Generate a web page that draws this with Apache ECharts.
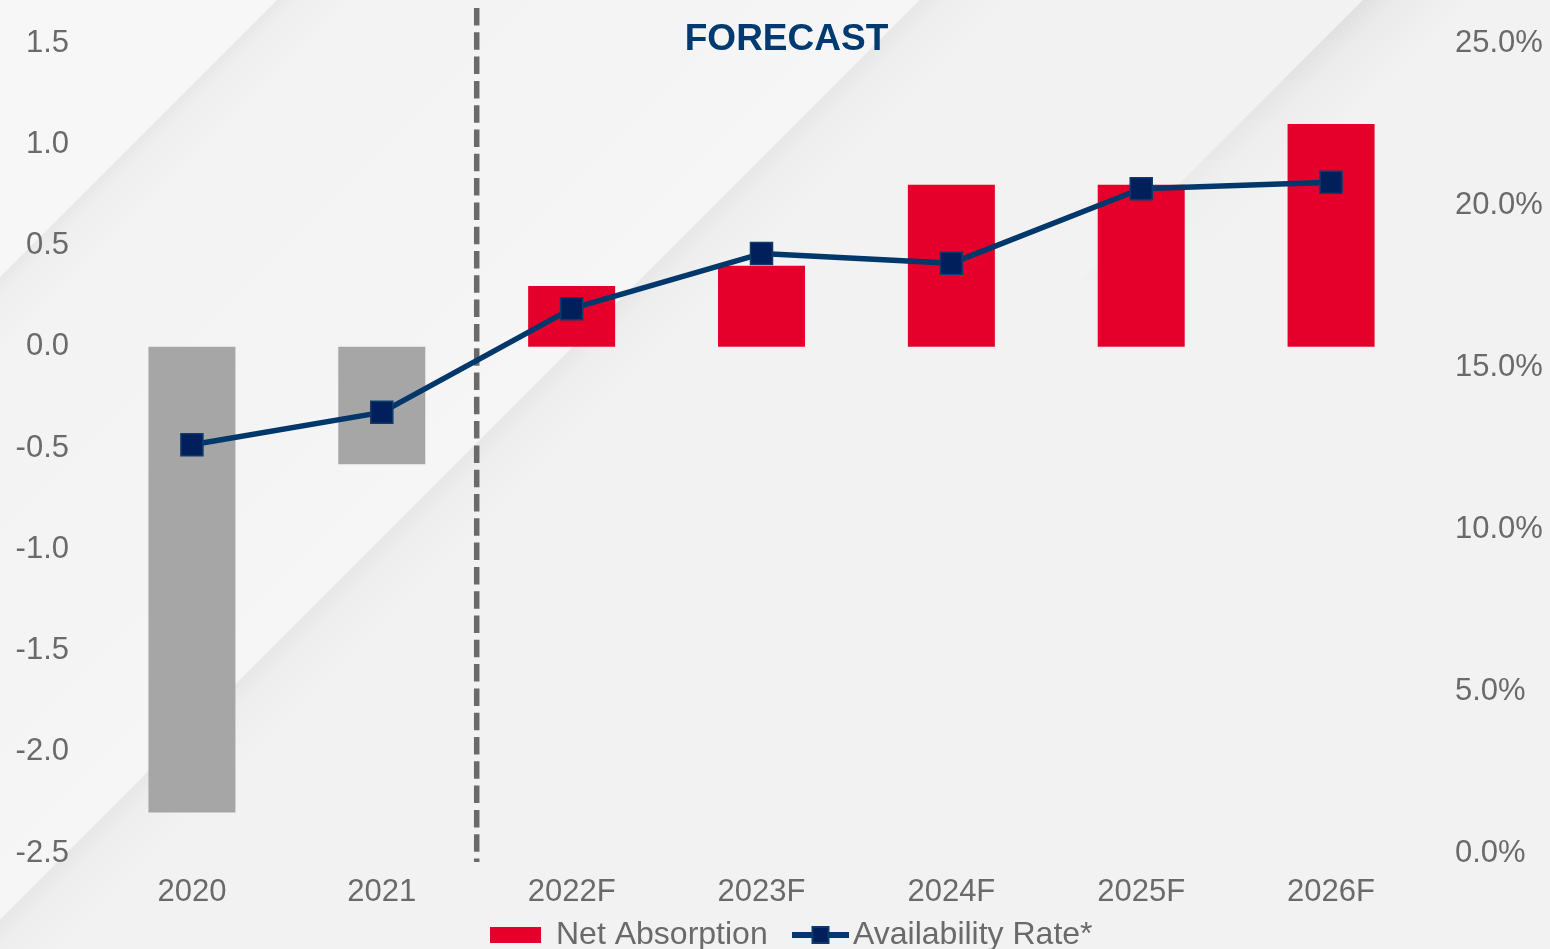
<!DOCTYPE html>
<html>
<head>
<meta charset="utf-8">
<title>Net Absorption &amp; Availability Rate</title>
<script src="https://cdn.jsdelivr.net/npm/echarts@6/dist/echarts.min.js"></script>
<style>
  html, body { margin: 0; padding: 0; background: #f3f3f3; }
  #main { width: 1550px; height: 949px; }
</style>
</head>
<body>
<div id="main"></div>
<script>
// Years shown on the category axis; the first two are actuals, the rest forecasts
const categories = ['2020', '2021', '2022F', '2023F', '2024F', '2025F', '2026F'];
const actualYears = 2;

// Net absorption (left axis)
const netAbsorption = [-2.3, -0.58, 0.3, 0.4, 0.8, 0.8, 1.1];

// Availability rate in percent (right axis)
const availabilityRate = [12.6, 13.6, 16.8, 18.5, 18.2, 20.5, 20.7];

// Axis ranges and tick steps
const leftAxisRange = [-2.5, 1.5];
const leftAxisStep = 0.5;
const rightAxisRange = [0, 25];
const rightAxisStep = 5;

const FONT = '"Liberation Sans", Arial, Helvetica, sans-serif';
const TEXT_GRAY = '#6a6a6a';
const RED = '#e4002b';
const GRAY_BAR = '#a6a6a6';
const NAVY_LINE = '#00386b';
const NAVY_MARK = '#001f5b';

const W = 1550, H = 949;

// Soft diagonal folds across the backdrop: each fold has a thin shaded edge
// along x + y = const that quickly fades out towards the lower right.
const D = W + H;
function t(v) { return v / D; }
const backdropStops = [
  { offset: 0, color: '#f7f7f7' },
  { offset: t(276), color: '#f7f7f7' },
  { offset: t(278), color: '#e9e9e9' },
  { offset: t(300), color: '#efefef' },
  { offset: t(360), color: '#f3f3f3' },
  { offset: t(700), color: '#f4f4f4' },
  { offset: t(918), color: '#f6f6f6' },
  { offset: t(921), color: '#e7e7e7' },
  { offset: t(945), color: '#eeeeee' },
  { offset: t(1010), color: '#f2f2f2' },
  { offset: 1, color: '#f2f2f2' }
];

// Short fold near the top-right corner, fading out as it runs down-left
const cornerFold = 1363;
const cornerSegments = [];
for (let k = 0; k < 8; k++) {
  const y0 = k * 40, y1 = (k + 1) * 40;
  cornerSegments.push({
    type: 'polygon',
    z: -9,
    silent: true,
    shape: {
      points: [
        [cornerFold - y0, y0], [cornerFold + 110 - y0, y0],
        [cornerFold + 110 - y1, y1], [cornerFold - y1, y1]
      ]
    },
    style: {
      opacity: Math.max(0, 1 - k / 7),
      fill: new echarts.graphic.LinearGradient(
        cornerFold / 2, cornerFold / 2, (cornerFold + 110) / 2, (cornerFold + 110) / 2,
        [
          { offset: 0, color: 'rgba(0,0,0,0.075)' },
          { offset: 0.3, color: 'rgba(0,0,0,0.03)' },
          { offset: 1, color: 'rgba(0,0,0,0)' }
        ],
        true
      )
    }
  });
}

const chart = echarts.init(document.getElementById('main'), null, { renderer: 'canvas' });

const option = {
  backgroundColor: '#f3f3f3',
  animation: false,
  textStyle: { fontFamily: FONT },
  grid: { left: 97, right: 124, top: 43, bottom: 96 },
  legend: [
    {
      data: [{ name: 'Net Absorption', icon: 'rect' }],
      left: 485,
      top: 914,
      itemWidth: 51,
      itemHeight: 16,
      selectedMode: false,
      textStyle: { fontSize: 32, color: TEXT_GRAY, fontFamily: FONT, padding: [0, 0, 0, 10] }
    },
    {
      data: ['Availability Rate*'],
      left: 784,
      top: 914,
      itemWidth: 57,
      itemHeight: 20,
      selectedMode: false,
      lineStyle: { width: 6, color: NAVY_LINE },
      textStyle: { fontSize: 32, color: TEXT_GRAY, fontFamily: FONT, padding: [0, 0, 0, -1] }
    }
  ],
  xAxis: {
    type: 'category',
    data: categories,
    axisLine: { show: false },
    axisTick: { show: false },
    axisLabel: { fontSize: 31, color: TEXT_GRAY, fontFamily: FONT, margin: 24 }
  },
  yAxis: [
    {
      type: 'value',
      min: leftAxisRange[0],
      max: leftAxisRange[1],
      interval: leftAxisStep,
      splitLine: { show: false },
      axisLine: { show: false },
      axisTick: { show: false },
      axisLabel: {
        fontSize: 31, color: TEXT_GRAY, fontFamily: FONT, margin: 28,
        formatter: v => v.toFixed(1)
      }
    },
    {
      type: 'value',
      position: 'right',
      min: rightAxisRange[0],
      max: rightAxisRange[1],
      interval: rightAxisStep,
      splitLine: { show: false },
      axisLine: { show: false },
      axisTick: { show: false },
      axisLabel: {
        fontSize: 31, color: TEXT_GRAY, fontFamily: FONT, margin: 29, align: 'left',
        formatter: v => v.toFixed(1) + '%'
      }
    }
  ],
  series: [
    {
      name: 'Net Absorption',
      type: 'bar',
      barWidth: 87,
      itemStyle: { color: RED },
      data: netAbsorption.map((v, i) =>
        i < actualYears ? { value: v, itemStyle: { color: GRAY_BAR } } : v
      )
    },
    {
      name: 'Availability Rate*',
      type: 'line',
      yAxisIndex: 1,
      data: availabilityRate,
      symbol: 'rect',
      symbolSize: 22,
      showAllSymbol: true,
      lineStyle: { color: NAVY_LINE, width: 5.5 },
      itemStyle: { color: NAVY_MARK, borderColor: '#0d3b6c', borderWidth: 1.5 },
      z: 5
    }
  ]
};

chart.setOption(option);

// Divider between actual and forecast years, plus the FORECAST heading,
// placed from the axis scale.
const xActualEnd = chart.convertToPixel({ xAxisIndex: 0 }, categories[actualYears - 1]);
const xForecastStart = chart.convertToPixel({ xAxisIndex: 0 }, categories[actualYears]);
const xDivider = (xActualEnd + xForecastStart) / 2;
const xHeading = chart.convertToPixel({ xAxisIndex: 0 }, categories[3]) + 25;

chart.setOption({
  graphic: [
    {
      id: 'backdrop',
      type: 'rect',
      z: -10,
      silent: true,
      shape: { x: 0, y: 0, width: W, height: H },
      style: {
        fill: new echarts.graphic.LinearGradient(0, 0, D / 2, D / 2, backdropStops, true)
      }
    },
    ...cornerSegments,
    {
      id: 'divider',
      type: 'line',
      z: 1,
      silent: true,
      shape: { x1: xDivider, y1: 8, x2: xDivider, y2: 862 },
      style: { stroke: '#6a6a6a', lineWidth: 5.5, lineDash: [17.5, 6.8] }
    },
    {
      id: 'forecastLabel',
      type: 'text',
      z: 10,
      silent: true,
      x: xHeading,
      y: 40,
      style: {
        text: 'FORECAST',
        fill: '#003a70',
        font: 'bold 37px ' + FONT,
        textAlign: 'center',
        textVerticalAlign: 'middle'
      }
    }
  ]
});
</script>
</body>
</html>
